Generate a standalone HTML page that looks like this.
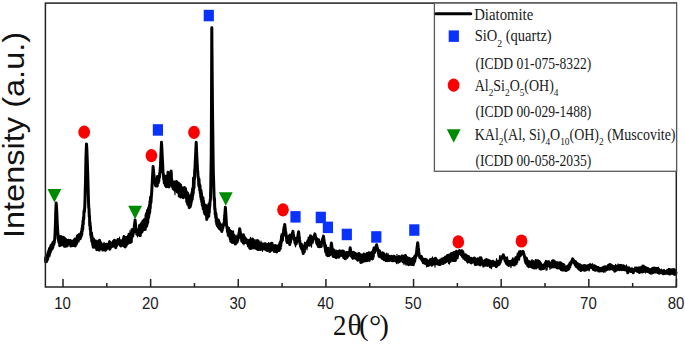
<!DOCTYPE html>
<html><head><meta charset="utf-8"><style>
html,body{margin:0;padding:0;background:#fff;width:685px;height:344px;overflow:hidden;}
svg{display:block;}
</style></head><body>
<svg width="685" height="344" viewBox="0 0 685 344">
<polyline points="45.50,257.4 45.75,261.8 46.00,257.2 46.25,260.8 46.50,257.0 46.75,261.4 47.00,255.5 47.25,259.8 47.50,254.9 47.75,259.0 48.00,253.0 48.25,257.0 48.50,252.0 48.75,255.1 49.00,250.4 49.25,253.9 49.50,248.7 49.75,253.5 50.00,249.5 50.25,252.2 50.50,247.0 50.75,250.7 51.00,245.5 51.25,250.0 51.50,245.0 51.75,248.5 52.00,244.7 52.25,248.6 52.50,243.7 52.75,247.7 53.00,242.4 53.25,245.7 53.50,242.1 53.75,244.6 54.00,243.5 54.25,242.5 54.50,240.4 54.75,239.3 55.00,234.6 55.25,228.7 55.50,221.7 55.75,212.0 56.00,206.6 56.20,202.9 56.25,203.6 56.50,207.3 56.75,211.4 57.00,217.1 57.25,223.6 57.50,226.9 57.75,231.8 58.00,234.2 58.25,238.4 58.50,239.5 58.75,241.8 59.00,236.9 59.25,243.3 59.50,237.5 59.75,245.7 60.00,238.9 60.25,244.2 60.50,239.4 60.75,243.9 61.00,236.4 61.25,244.1 61.50,238.4 61.75,245.0 62.00,238.7 62.25,244.1 62.50,239.0 62.75,244.2 63.00,238.5 63.25,243.9 63.50,237.2 63.75,245.1 64.00,238.3 64.25,244.0 64.50,238.3 64.75,246.2 65.00,238.8 65.25,246.0 65.50,240.5 65.75,246.2 66.00,240.0 66.25,245.4 66.50,239.9 66.75,245.9 67.00,240.2 67.25,245.8 67.50,241.6 67.75,244.6 68.00,240.7 68.25,243.7 68.50,240.2 68.75,243.6 69.00,240.9 69.25,243.4 69.50,240.8 69.75,243.2 70.00,241.1 70.25,243.6 70.50,240.4 70.75,246.0 71.00,242.0 71.25,245.8 71.50,242.7 71.75,245.8 72.00,242.3 72.25,245.3 72.50,242.0 72.75,245.6 73.00,241.3 73.25,244.3 73.50,240.7 73.75,245.1 74.00,241.3 74.25,244.2 74.50,239.7 74.75,245.2 75.00,239.1 75.25,245.9 75.50,239.4 75.75,244.2 76.00,239.2 76.25,244.4 76.50,239.6 76.75,243.1 77.00,238.3 77.25,241.5 77.50,237.4 77.75,240.8 78.00,235.6 78.25,238.7 78.50,235.4 78.75,239.0 79.00,235.5 79.25,238.6 79.50,234.3 79.75,238.3 80.00,234.7 80.25,238.7 80.50,234.7 80.75,237.0 81.00,233.8 81.25,236.0 81.50,231.5 81.75,234.7 82.00,228.5 82.25,231.5 82.50,225.6 82.75,229.1 83.00,220.7 83.25,224.3 83.50,217.2 83.75,219.0 84.00,211.0 84.25,212.1 84.50,211.2 84.75,206.7 85.00,200.0 85.25,189.4 85.50,181.5 85.75,167.8 86.00,155.7 86.25,149.6 86.50,143.9 86.50,143.9 86.75,147.7 87.00,153.4 87.25,160.1 87.50,167.6 87.75,174.2 88.00,183.5 88.25,192.5 88.50,201.7 88.75,207.8 89.00,208.6 89.25,216.7 89.50,215.7 89.75,225.8 90.00,222.3 90.25,229.8 90.50,226.6 90.75,235.2 91.00,232.5 91.25,237.7 91.50,232.7 91.75,241.1 92.00,235.9 92.25,242.4 92.50,238.5 92.75,245.3 93.00,240.1 93.25,247.3 93.50,238.7 93.75,244.6 94.00,239.9 94.25,244.5 94.50,240.9 94.75,246.6 95.00,241.8 95.25,247.4 95.50,243.5 95.75,247.5 96.00,240.9 96.25,247.5 96.50,242.2 96.75,249.7 97.00,242.3 97.25,247.7 97.50,241.8 97.75,249.2 98.00,243.0 98.25,249.1 98.50,241.6 98.75,249.8 99.00,241.8 99.25,250.2 99.50,240.2 99.75,248.1 100.00,241.4 100.25,248.1 100.50,243.4 100.75,248.1 101.00,243.2 101.25,248.5 101.50,243.9 101.75,248.0 102.00,244.5 102.25,248.3 102.50,245.2 102.75,250.1 103.00,246.4 103.25,249.3 103.50,245.7 103.75,248.9 104.00,245.0 104.25,248.0 104.50,243.9 104.75,249.4 105.00,246.1 105.25,250.3 105.50,245.6 105.75,249.2 106.00,245.9 106.25,249.4 106.50,244.2 106.75,247.8 107.00,244.5 107.25,247.6 107.50,245.1 107.75,248.1 108.00,245.7 108.25,247.8 108.50,244.1 108.75,248.2 109.00,243.5 109.25,247.0 109.50,241.7 109.75,249.3 110.00,243.1 110.25,248.5 110.50,244.6 110.75,247.3 111.00,242.9 111.25,247.0 111.50,244.0 111.75,246.1 112.00,243.1 112.25,245.0 112.50,242.7 112.75,246.3 113.00,243.3 113.25,246.3 113.50,241.3 113.75,246.0 114.00,241.0 114.25,245.6 114.50,240.3 114.75,245.5 115.00,240.5 115.25,245.4 115.50,241.4 115.75,247.8 116.00,241.7 116.25,244.2 116.50,241.6 116.75,244.1 117.00,240.9 117.25,243.4 117.50,240.7 117.75,242.1 118.00,239.5 118.25,242.1 118.50,240.1 118.75,243.3 119.00,240.0 119.25,244.3 119.50,240.4 119.75,243.3 120.00,240.7 120.25,245.4 120.50,241.6 120.75,245.3 121.00,242.0 121.25,245.1 121.50,242.5 121.75,244.0 122.00,240.4 122.25,244.6 122.50,241.0 122.75,245.4 123.00,240.3 123.25,244.8 123.50,238.4 123.75,246.0 124.00,236.6 124.25,245.7 124.50,238.0 124.75,246.3 125.00,239.6 125.25,246.9 125.50,238.2 125.75,245.8 126.00,237.4 126.25,245.5 126.50,238.8 126.75,244.5 127.00,238.0 127.25,242.2 127.50,237.7 127.75,242.0 128.00,236.7 128.25,243.2 128.50,236.3 128.75,241.9 129.00,234.3 129.25,241.8 129.50,234.6 129.75,241.8 130.00,234.6 130.25,242.5 130.50,234.7 130.75,241.4 131.00,235.1 131.25,241.9 131.50,232.7 131.75,237.7 132.00,229.7 132.25,235.6 132.50,229.4 132.75,236.1 133.00,234.2 133.25,233.1 133.50,232.7 133.75,231.6 134.00,228.5 134.25,227.2 134.50,225.3 134.75,223.0 135.00,221.0 135.10,220.1 135.25,221.6 135.50,224.1 135.75,227.2 136.00,228.3 136.25,232.1 136.50,230.9 136.75,234.1 137.00,232.9 137.25,234.5 137.50,230.8 137.75,235.0 138.00,230.2 138.25,233.9 138.50,229.8 138.75,233.2 139.00,230.0 139.25,234.4 139.50,225.5 139.75,234.3 140.00,228.0 140.25,235.7 140.50,224.8 140.75,233.5 141.00,225.2 141.25,229.2 141.50,223.8 141.75,232.2 142.00,222.7 142.25,231.5 142.50,223.1 142.75,230.3 143.00,221.1 143.25,226.2 143.50,222.0 143.75,227.3 144.00,221.2 144.25,229.4 144.50,219.4 144.75,228.9 145.00,220.9 145.25,229.5 145.50,219.1 145.75,227.0 146.00,215.3 146.25,225.2 146.50,213.4 146.75,226.2 147.00,215.2 147.25,223.9 147.50,210.6 147.75,222.6 148.00,212.9 148.25,218.8 148.50,208.8 148.75,216.9 149.00,207.0 149.25,213.7 149.50,205.2 149.75,212.0 150.00,201.2 150.25,208.2 150.50,197.2 150.75,202.7 151.00,202.3 151.25,197.3 151.50,194.8 151.75,191.5 152.00,186.3 152.25,182.5 152.50,177.3 152.75,173.1 153.00,168.5 153.10,166.6 153.25,168.1 153.50,170.6 153.75,173.5 154.00,174.9 154.25,177.9 154.50,178.5 154.75,182.8 155.00,182.7 155.25,184.1 155.50,182.3 155.75,185.9 156.00,178.9 156.25,186.0 156.50,180.3 156.75,185.1 157.00,178.4 157.25,185.9 157.50,176.5 157.75,182.1 158.00,177.9 158.25,182.9 158.50,177.8 158.75,181.3 159.00,176.5 159.25,177.7 159.50,177.2 159.75,172.7 160.00,172.4 160.25,168.6 160.50,165.2 160.75,158.3 161.00,153.2 161.25,147.7 161.50,142.2 161.50,142.2 161.75,146.9 162.00,151.6 162.25,156.7 162.50,161.3 162.75,166.2 163.00,172.1 163.25,174.2 163.50,174.9 163.75,179.6 164.00,176.0 164.25,183.0 164.50,175.7 164.75,183.2 165.00,176.0 165.25,185.2 165.50,176.9 165.75,186.0 166.00,177.5 166.25,186.8 166.50,178.8 166.75,185.3 167.00,177.4 167.25,184.6 167.50,175.5 167.75,186.4 168.00,172.3 168.25,184.0 168.50,174.6 168.75,182.3 169.00,187.0 169.25,183.6 169.50,185.6 169.75,184.4 170.00,184.5 170.25,180.6 170.50,178.6 170.75,175.0 171.00,172.2 171.10,170.9 171.25,173.2 171.50,177.9 171.75,180.9 172.00,185.8 172.25,184.9 172.50,187.2 172.75,186.7 173.00,186.7 173.25,188.8 173.50,187.6 173.75,188.9 174.00,182.0 174.25,189.7 174.50,182.0 174.75,190.2 175.00,181.9 175.25,189.0 175.50,181.8 175.75,188.0 176.00,183.7 176.25,189.7 176.50,181.4 176.75,190.4 177.00,183.9 177.25,192.0 177.50,183.5 177.75,190.7 178.00,184.4 178.25,192.6 178.50,183.1 178.75,192.4 179.00,185.1 179.25,196.1 179.50,183.9 179.75,195.7 180.00,185.3 180.25,195.5 180.50,184.9 180.75,197.1 181.00,186.4 181.25,192.7 181.50,187.6 181.75,193.7 182.00,187.7 182.25,195.7 182.50,188.8 182.75,196.2 183.00,188.4 183.25,197.7 183.50,188.3 183.75,193.2 184.00,188.3 184.25,193.4 184.50,187.5 184.75,192.2 185.00,189.3 185.25,194.6 185.50,188.6 185.75,197.2 186.00,191.0 186.25,198.0 186.50,191.9 186.75,201.6 187.00,195.2 187.25,200.0 187.50,193.1 187.75,204.5 188.00,194.2 188.25,202.9 188.50,197.1 188.75,205.7 189.00,197.4 189.25,207.8 189.50,199.8 189.75,206.6 190.00,197.6 190.25,206.8 190.50,196.0 190.75,204.8 191.00,195.5 191.25,202.0 191.50,194.5 191.75,199.8 192.00,192.5 192.25,199.4 192.50,189.3 192.75,195.7 193.00,187.5 193.25,193.2 193.50,177.9 193.75,188.9 194.00,186.8 194.25,180.3 194.50,178.0 194.75,170.0 195.00,168.2 195.25,161.3 195.50,157.3 195.75,151.6 196.00,146.4 196.20,142.2 196.25,143.3 196.50,149.0 196.75,154.7 197.00,160.5 197.25,165.7 197.50,169.2 197.75,171.7 198.00,176.3 198.25,178.1 198.50,178.3 198.75,185.5 199.00,179.1 199.25,187.3 199.50,184.0 199.75,190.4 200.00,185.6 200.25,193.2 200.50,189.9 200.75,196.9 201.00,190.2 201.25,199.6 201.50,193.3 201.75,201.9 202.00,196.6 202.25,204.9 202.50,197.8 202.75,206.4 203.00,197.7 203.25,209.0 203.50,201.0 203.75,208.4 204.00,205.1 204.25,212.0 204.50,205.8 204.75,213.8 205.00,205.8 205.25,213.3 205.50,204.9 205.75,215.0 206.00,207.4 206.25,215.8 206.50,212.4 206.75,219.4 207.00,212.0 207.25,218.1 207.50,210.2 207.75,217.0 208.00,207.9 208.25,216.6 208.50,205.5 208.75,216.2 209.00,203.9 209.25,212.6 209.50,204.7 209.75,206.9 210.00,202.3 210.25,200.2 210.50,197.9 210.75,187.0 211.00,170.3 211.25,153.9 211.50,101.7 211.75,40.0 211.80,27.7 212.00,52.2 212.25,82.5 212.50,108.9 212.75,129.6 213.00,149.8 213.25,168.4 213.50,177.1 213.75,185.1 214.00,193.7 214.25,200.3 214.50,198.7 214.75,209.1 215.00,208.3 215.25,214.7 215.50,212.2 215.75,217.6 216.00,213.8 216.25,221.8 216.50,219.6 216.75,224.1 217.00,219.7 217.25,225.7 217.50,219.8 217.75,226.0 218.00,221.9 218.25,227.1 218.50,220.0 218.75,226.8 219.00,221.6 219.25,228.5 219.50,223.0 219.75,228.1 220.00,224.5 220.25,227.6 220.50,226.1 220.75,229.9 221.00,227.5 221.25,230.2 221.50,227.3 221.75,231.5 222.00,228.6 222.25,230.1 222.50,226.1 222.75,228.2 223.00,226.5 223.25,226.1 223.50,224.2 223.75,224.9 224.00,222.8 224.25,222.4 224.50,218.7 224.75,216.0 225.00,212.3 225.25,209.3 225.40,207.3 225.50,208.9 225.75,213.1 226.00,217.2 226.25,221.2 226.50,225.3 226.75,226.2 227.00,227.4 227.25,229.0 227.50,231.4 227.75,232.4 228.00,227.9 228.25,235.1 228.50,227.9 228.75,236.0 229.00,230.0 229.25,235.6 229.50,229.9 229.75,236.8 230.00,231.8 230.25,239.3 230.50,232.4 230.75,241.2 231.00,231.5 231.25,241.6 231.50,231.5 231.75,241.6 232.00,231.9 232.25,242.5 232.50,234.7 232.75,240.9 233.00,234.3 233.25,242.2 233.50,235.7 233.75,241.2 234.00,235.3 234.25,242.4 234.50,236.1 234.75,243.3 235.00,236.5 235.25,244.1 235.50,238.4 235.75,243.1 236.00,237.6 236.25,243.2 236.50,237.6 236.75,242.0 237.00,237.8 237.25,241.9 237.50,237.0 237.75,240.4 238.00,237.0 238.25,238.4 238.50,236.1 238.75,236.1 239.00,233.0 239.25,232.1 239.50,230.1 239.70,228.8 239.75,229.1 240.00,230.6 240.25,232.6 240.50,233.3 240.75,235.9 241.00,236.8 241.25,238.3 241.50,238.2 241.75,241.0 242.00,238.9 242.25,240.1 242.50,235.0 242.75,242.0 243.00,235.9 243.25,242.9 243.50,234.7 243.75,242.6 244.00,236.2 244.25,242.6 244.50,237.3 244.75,241.9 245.00,238.1 245.25,242.5 245.50,238.4 245.75,241.2 246.00,239.3 246.25,241.6 246.50,239.9 246.75,242.0 247.00,240.0 247.25,242.9 247.50,241.1 247.75,243.8 248.00,240.6 248.25,244.7 248.50,241.6 248.75,245.1 249.00,242.0 249.25,246.7 249.50,242.7 249.75,248.2 250.00,240.0 250.25,247.9 250.50,241.4 250.75,248.6 251.00,240.2 251.25,246.3 251.50,240.0 251.75,248.0 252.00,240.5 252.25,246.7 252.50,239.1 252.75,246.9 253.00,242.3 253.25,247.9 253.50,240.1 253.75,247.3 254.00,240.7 254.25,247.8 254.50,243.1 254.75,247.9 255.00,241.7 255.25,247.7 255.50,242.2 255.75,248.2 256.00,241.8 256.25,247.6 256.50,243.2 256.75,247.8 257.00,241.3 257.25,249.1 257.50,240.7 257.75,248.4 258.00,240.7 258.25,249.6 258.50,241.6 258.75,249.2 259.00,243.4 259.25,248.2 259.50,243.1 259.75,249.0 260.00,244.0 260.25,249.4 260.50,245.7 260.75,248.9 261.00,245.5 261.25,249.3 261.50,243.6 261.75,249.0 262.00,243.8 262.25,247.5 262.50,244.6 262.75,248.1 263.00,244.6 263.25,248.7 263.50,244.6 263.75,248.8 264.00,245.5 264.25,248.9 264.50,243.8 264.75,248.1 265.00,244.7 265.25,247.9 265.50,243.7 265.75,248.3 266.00,245.0 266.25,249.9 266.50,244.6 266.75,249.5 267.00,245.5 267.25,250.6 267.50,245.9 267.75,249.4 268.00,244.5 268.25,249.8 268.50,246.2 268.75,249.3 269.00,245.2 269.25,249.6 269.50,244.9 269.75,251.5 270.00,243.9 270.25,250.9 270.50,245.3 270.75,250.5 271.00,243.4 271.25,249.9 271.50,243.4 271.75,249.6 272.00,243.2 272.25,249.1 272.50,245.1 272.75,249.9 273.00,245.9 273.25,249.4 273.50,245.5 273.75,250.2 274.00,246.4 274.25,251.4 274.50,246.0 274.75,250.7 275.00,246.8 275.25,249.6 275.50,245.5 275.75,250.0 276.00,246.5 276.25,251.3 276.50,246.7 276.75,251.9 277.00,246.7 277.25,250.4 277.50,246.1 277.75,249.7 278.00,246.9 278.25,250.4 278.50,247.8 278.75,250.3 279.00,246.8 279.25,250.4 279.50,244.5 279.75,248.1 280.00,242.8 280.25,248.8 280.50,242.3 280.75,245.9 281.00,240.2 281.25,242.9 281.50,236.3 281.75,241.1 282.00,234.5 282.25,237.4 282.50,240.1 282.75,234.8 283.00,235.8 283.25,233.2 283.50,231.5 283.75,229.3 284.00,228.5 284.25,226.6 284.50,225.5 284.70,224.4 284.75,224.8 285.00,226.8 285.25,228.7 285.50,230.7 285.75,232.2 286.00,233.8 286.25,237.0 286.50,236.3 286.75,241.4 287.00,239.8 287.25,242.5 287.50,238.9 287.75,241.1 288.00,238.1 288.25,240.5 288.50,236.4 288.75,240.4 289.00,237.7 289.25,243.3 289.50,236.4 289.75,244.6 290.00,235.1 290.25,242.6 290.50,242.0 290.75,239.8 291.00,239.5 291.25,238.9 291.50,237.0 291.75,236.8 292.00,235.1 292.25,233.9 292.50,232.8 292.75,231.9 292.90,231.3 293.00,231.8 293.25,233.5 293.50,234.7 293.75,236.3 294.00,238.2 294.25,238.0 294.50,240.3 294.75,240.7 295.00,242.9 295.25,242.6 295.50,239.8 295.75,244.2 296.00,238.7 296.25,243.7 296.50,241.3 296.75,242.3 297.00,240.6 297.25,238.8 297.50,238.4 297.75,236.4 298.00,235.5 298.25,233.7 298.50,232.4 298.60,231.8 298.75,233.0 299.00,235.4 299.25,237.2 299.50,239.5 299.75,241.1 300.00,244.2 300.25,244.1 300.50,246.4 300.75,246.0 301.00,247.2 301.25,247.8 301.50,244.3 301.75,249.1 302.00,245.7 302.25,249.4 302.50,247.5 302.75,252.0 303.00,247.7 303.25,253.6 303.50,246.9 303.75,251.5 304.00,246.9 304.25,251.9 304.50,246.4 304.75,249.0 305.00,245.1 305.25,248.2 305.50,243.5 305.75,247.4 306.00,243.6 306.25,247.1 306.50,244.6 306.75,246.6 307.00,243.2 307.25,245.6 307.50,241.8 307.75,245.1 308.00,240.8 308.25,244.9 308.50,240.5 308.75,243.2 309.00,237.9 309.25,244.4 309.50,238.2 309.75,245.2 310.00,237.5 310.25,244.6 310.50,235.8 310.75,243.8 311.00,237.6 311.25,243.3 311.50,237.0 311.75,242.7 312.00,237.8 312.25,242.6 312.50,241.5 312.75,241.1 313.00,238.7 313.25,238.8 313.50,237.6 313.75,238.0 314.00,236.4 314.25,235.7 314.50,235.0 314.75,234.1 314.80,233.9 315.00,234.8 315.25,235.6 315.50,237.0 315.75,237.4 316.00,239.3 316.25,239.5 316.50,241.6 316.75,243.4 317.00,242.8 317.25,244.1 317.50,239.1 317.75,244.9 318.00,240.1 318.25,246.5 318.50,240.0 318.75,245.4 319.00,242.1 319.25,244.8 319.50,242.9 319.75,246.8 320.00,243.8 320.25,245.7 320.50,243.4 320.75,246.5 321.00,242.6 321.25,246.4 321.50,242.5 321.75,243.2 322.00,241.1 322.25,241.4 322.50,239.1 322.75,239.6 323.00,238.0 323.25,237.3 323.50,236.1 323.50,236.1 323.75,238.2 324.00,239.5 324.25,242.8 324.50,242.7 324.75,246.6 325.00,246.7 325.25,248.6 325.50,249.8 325.75,252.0 326.00,248.8 326.25,252.2 326.50,248.4 326.75,255.0 327.00,248.2 327.25,253.6 327.50,249.9 327.75,255.7 328.00,250.4 328.25,255.0 328.50,251.2 328.75,255.4 329.00,255.2 329.25,253.7 329.50,254.6 329.75,252.4 330.00,254.7 330.25,252.0 330.50,250.7 330.75,247.7 331.00,246.7 331.25,244.2 331.40,243.1 331.50,243.9 331.75,245.7 332.00,247.6 332.25,249.6 332.50,251.2 332.75,252.3 333.00,255.8 333.25,255.5 333.50,256.6 333.75,255.9 334.00,250.1 334.25,256.3 334.50,252.3 334.75,256.2 335.00,251.5 335.25,257.1 335.50,253.3 335.75,256.8 336.00,252.4 336.25,257.7 336.50,251.3 336.75,255.8 337.00,252.5 337.25,256.7 337.50,253.2 337.75,256.1 338.00,252.6 338.25,256.4 338.50,251.6 338.75,257.2 339.00,251.3 339.25,255.2 339.50,252.9 339.75,255.6 340.00,252.1 340.25,254.4 340.50,251.8 340.75,255.4 341.00,252.1 341.25,254.6 341.50,251.2 341.75,254.9 342.00,252.0 342.25,255.3 342.50,251.8 342.75,255.1 343.00,250.9 343.25,256.5 343.50,252.5 343.75,257.7 344.00,253.3 344.25,257.9 344.50,254.0 344.75,258.0 345.00,254.8 345.25,258.8 345.50,254.0 345.75,257.9 346.00,253.9 346.25,256.8 346.50,252.4 346.75,257.1 347.00,253.6 347.25,257.2 347.50,252.4 347.75,255.7 348.00,255.6 348.25,253.5 348.50,255.5 348.75,253.6 349.00,254.0 349.25,253.7 349.50,252.1 349.75,250.8 350.00,249.1 350.20,247.8 350.25,248.2 350.50,250.1 350.75,251.6 351.00,254.6 351.25,254.4 351.50,256.3 351.75,254.4 352.00,256.8 352.25,254.7 352.50,258.0 352.75,254.4 353.00,252.4 353.25,254.8 353.50,252.2 353.75,256.4 354.00,252.5 354.25,257.2 354.50,254.5 354.75,257.9 355.00,253.9 355.25,257.7 355.50,253.5 355.75,257.9 356.00,254.7 356.25,257.9 356.50,254.0 356.75,259.3 357.00,254.2 357.25,258.9 357.50,255.1 357.75,260.2 358.00,255.7 358.25,259.2 358.50,253.8 358.75,258.9 359.00,253.6 359.25,259.5 359.50,253.9 359.75,260.1 360.00,256.0 360.25,260.3 360.50,256.8 360.75,262.4 361.00,257.0 361.25,261.7 361.50,257.4 361.75,262.3 362.00,255.0 362.25,262.0 362.50,256.7 362.75,260.0 363.00,255.3 363.25,260.9 363.50,254.7 363.75,261.1 364.00,254.0 364.25,261.0 364.50,255.3 364.75,260.5 365.00,255.1 365.25,260.2 365.50,255.1 365.75,258.5 366.00,254.8 366.25,260.7 366.50,254.8 366.75,260.1 367.00,253.6 367.25,258.8 367.50,255.7 367.75,259.2 368.00,254.7 368.25,258.8 368.50,253.9 368.75,259.3 369.00,252.7 369.25,260.5 369.50,253.7 369.75,258.5 370.00,253.6 370.25,257.8 370.50,253.4 370.75,257.2 371.00,253.1 371.25,258.6 371.50,252.9 371.75,257.1 372.00,252.2 372.25,258.9 372.50,253.2 372.75,258.5 373.00,252.8 373.25,256.6 373.50,250.0 373.75,253.0 374.00,248.1 374.25,251.9 374.50,252.7 374.75,250.2 375.00,250.9 375.25,248.7 375.50,249.6 375.75,247.1 376.00,247.4 376.25,245.9 376.50,245.3 376.60,244.8 376.75,245.4 377.00,246.8 377.25,247.3 377.50,249.0 377.75,249.3 378.00,251.5 378.25,250.8 378.50,253.8 378.75,252.5 379.00,256.2 379.25,253.1 379.50,250.7 379.75,256.8 380.00,252.9 380.25,255.9 380.50,253.2 380.75,257.1 381.00,253.2 381.25,257.0 381.50,253.3 381.75,257.5 382.00,253.7 382.25,258.5 382.50,252.8 382.75,258.3 383.00,253.1 383.25,257.8 383.50,253.3 383.75,259.0 384.00,255.7 384.25,259.8 384.50,256.3 384.75,259.2 385.00,256.0 385.25,258.9 385.50,255.4 385.75,259.3 386.00,255.0 386.25,260.0 386.50,255.5 386.75,260.6 387.00,255.6 387.25,260.7 387.50,256.0 387.75,260.4 388.00,256.3 388.25,260.1 388.50,255.9 388.75,259.1 389.00,256.5 389.25,260.4 389.50,256.9 389.75,260.5 390.00,256.8 390.25,259.8 390.50,257.3 390.75,259.4 391.00,257.7 391.25,259.9 391.50,256.3 391.75,260.1 392.00,257.7 392.25,260.8 392.50,258.2 392.75,260.8 393.00,258.2 393.25,260.5 393.50,257.8 393.75,259.9 394.00,256.3 394.25,260.4 394.50,257.6 394.75,260.1 395.00,258.2 395.25,260.8 395.50,257.9 395.75,260.9 396.00,257.7 396.25,259.6 396.50,257.8 396.75,260.5 397.00,257.5 397.25,260.5 397.50,258.6 397.75,261.6 398.00,257.3 398.25,261.7 398.50,257.7 398.75,261.6 399.00,256.4 399.25,261.7 399.50,257.0 399.75,261.2 400.00,258.4 400.25,260.4 400.50,257.4 400.75,259.7 401.00,257.2 401.25,259.5 401.50,257.1 401.75,260.2 402.00,255.9 402.25,259.9 402.50,257.1 402.75,261.4 403.00,256.3 403.25,262.0 403.50,257.5 403.75,261.7 404.00,258.3 404.25,262.3 404.50,257.3 404.75,260.4 405.00,255.8 405.25,260.2 405.50,255.4 405.75,260.7 406.00,257.7 406.25,263.1 406.50,258.0 406.75,262.2 407.00,257.6 407.25,262.7 407.50,258.5 407.75,264.1 408.00,258.5 408.25,263.9 408.50,259.5 408.75,264.7 409.00,258.3 409.25,264.1 409.50,258.5 409.75,263.5 410.00,258.9 410.25,263.3 410.50,259.1 410.75,263.5 411.00,259.3 411.25,264.5 411.50,259.7 411.75,263.2 412.00,259.8 412.25,263.8 412.50,258.9 412.75,262.9 413.00,258.6 413.25,264.8 413.50,259.9 413.75,263.4 414.00,258.9 414.25,262.2 414.50,257.7 414.75,261.1 415.00,256.1 415.25,258.7 415.50,257.6 415.75,256.1 416.00,256.3 416.25,253.8 416.50,252.5 416.75,250.3 417.00,248.1 417.25,246.6 417.50,244.3 417.70,242.8 417.75,243.2 418.00,245.1 418.25,247.7 418.50,249.1 418.75,252.0 419.00,253.3 419.25,256.1 419.50,255.8 419.75,257.5 420.00,256.6 420.25,257.7 420.50,256.1 420.75,257.9 421.00,256.6 421.25,259.0 421.50,256.6 421.75,259.7 422.00,258.7 422.25,260.5 422.50,259.9 422.75,261.0 423.00,260.1 423.25,262.7 423.50,258.9 423.75,262.3 424.00,259.9 424.25,263.0 424.50,260.3 424.75,262.4 425.00,259.4 425.25,263.5 425.50,259.3 425.75,262.6 426.00,259.5 426.25,263.1 426.50,259.8 426.75,263.9 427.00,261.1 427.25,263.9 427.50,263.0 427.75,265.5 428.00,263.0 428.25,264.6 428.50,262.1 428.75,265.2 429.00,261.9 429.25,264.2 429.50,260.9 429.75,263.8 430.00,260.0 430.25,263.4 430.50,259.4 430.75,263.2 431.00,260.1 431.25,264.0 431.50,259.2 431.75,265.2 432.00,259.5 432.25,263.5 432.50,259.4 432.75,264.4 433.00,259.4 433.25,263.6 433.50,259.7 433.75,263.2 434.00,259.5 434.25,263.4 434.50,259.6 434.75,263.8 435.00,258.7 435.25,263.1 435.50,258.3 435.75,262.6 436.00,258.9 436.25,263.1 436.50,260.5 436.75,263.6 437.00,260.6 437.25,263.3 437.50,261.3 437.75,264.1 438.00,261.8 438.25,263.8 438.50,261.9 438.75,264.3 439.00,261.5 439.25,264.6 439.50,261.2 439.75,263.9 440.00,260.4 440.25,264.5 440.50,260.0 440.75,263.6 441.00,260.6 441.25,262.8 441.50,259.5 441.75,263.0 442.00,260.1 442.25,262.9 442.50,258.7 442.75,263.4 443.00,258.9 443.25,263.4 443.50,259.5 443.75,262.7 444.00,259.2 444.25,262.2 444.50,257.9 444.75,262.3 445.00,258.2 445.25,260.7 445.50,256.9 445.75,261.8 446.00,257.2 446.25,260.0 446.50,256.8 446.75,260.6 447.00,256.6 447.25,259.8 447.50,255.6 447.75,260.2 448.00,256.2 448.25,260.9 448.50,256.0 448.75,260.1 449.00,254.9 449.25,260.7 449.50,255.9 449.75,261.1 450.00,254.7 450.25,261.5 450.50,255.9 450.75,260.8 451.00,254.3 451.25,260.2 451.50,253.6 451.75,259.7 452.00,254.1 452.25,259.9 452.50,253.5 452.75,260.5 453.00,254.2 453.25,260.3 453.50,252.9 453.75,259.6 454.00,252.6 454.25,260.6 454.50,253.4 454.75,260.5 455.00,254.5 455.25,260.6 455.50,253.3 455.75,259.5 456.00,251.9 456.25,257.7 456.50,251.2 456.75,258.1 457.00,253.0 457.25,258.0 457.50,254.3 457.75,255.5 458.00,252.6 458.25,254.0 458.50,252.0 458.75,252.9 459.00,251.5 459.25,251.4 459.50,250.6 459.50,250.6 459.75,251.3 460.00,251.5 460.25,252.5 460.50,252.2 460.75,253.8 461.00,252.7 461.25,254.8 461.50,253.4 461.75,255.2 462.00,250.8 462.25,256.5 462.50,251.3 462.75,256.5 463.00,252.0 463.25,256.9 463.50,254.2 463.75,256.9 464.00,255.7 464.25,258.1 464.50,255.4 464.75,258.7 465.00,255.1 465.25,259.5 465.50,254.8 465.75,259.0 466.00,255.8 466.25,259.8 466.50,255.5 466.75,260.4 467.00,256.2 467.25,261.3 467.50,257.1 467.75,261.6 468.00,257.7 468.25,260.7 468.50,256.5 468.75,261.8 469.00,258.6 469.25,262.0 469.50,258.7 469.75,261.3 470.00,259.6 470.25,261.7 470.50,258.3 470.75,261.9 471.00,258.9 471.25,263.0 471.50,259.6 471.75,261.9 472.00,259.9 472.25,261.9 472.50,259.9 472.75,261.9 473.00,259.0 473.25,262.0 473.50,258.6 473.75,262.1 474.00,258.4 474.25,261.5 474.50,258.0 474.75,262.0 475.00,259.1 475.25,264.6 475.50,259.0 475.75,264.6 476.00,260.4 476.25,263.3 476.50,260.3 476.75,264.3 477.00,259.6 477.25,263.2 477.50,259.5 477.75,263.4 478.00,258.8 478.25,263.4 478.50,259.6 478.75,263.2 479.00,260.7 479.25,264.4 479.50,260.1 479.75,263.3 480.00,260.5 480.25,264.9 480.50,259.1 480.75,264.0 481.00,257.8 481.25,264.0 481.50,259.5 481.75,263.3 482.00,260.5 482.25,263.9 482.50,261.1 482.75,263.2 483.00,261.7 483.25,264.4 483.50,261.3 483.75,263.5 484.00,261.6 484.25,263.1 484.50,261.4 484.75,263.9 485.00,261.5 485.25,265.2 485.50,260.0 485.75,264.0 486.00,260.1 486.25,264.2 486.50,259.6 486.75,263.4 487.00,261.5 487.25,265.4 487.50,260.5 487.75,264.5 488.00,260.7 488.25,264.5 488.50,260.7 488.75,264.0 489.00,261.8 489.25,264.0 489.50,260.9 489.75,265.6 490.00,261.0 490.25,264.4 490.50,261.9 490.75,265.0 491.00,262.7 491.25,266.1 491.50,263.3 491.75,265.5 492.00,262.1 492.25,265.5 492.50,261.6 492.75,265.0 493.00,261.2 493.25,265.2 493.50,263.1 493.75,264.5 494.00,263.0 494.25,265.0 494.50,262.5 494.75,265.4 495.00,264.0 495.25,265.4 495.50,262.8 495.75,265.7 496.00,262.2 496.25,266.7 496.50,262.3 496.75,265.9 497.00,262.3 497.25,265.2 497.50,262.8 497.75,264.2 498.00,261.2 498.25,263.8 498.50,261.4 498.75,264.7 499.00,261.5 499.25,264.0 499.50,261.4 499.75,263.2 500.00,260.2 500.25,262.0 500.50,259.2 500.75,260.6 501.00,258.0 501.25,259.4 501.50,257.6 501.75,258.4 502.00,256.9 502.25,257.3 502.50,256.7 502.75,256.0 503.00,255.5 503.25,255.0 503.30,254.9 503.50,255.4 503.75,256.3 504.00,257.2 504.25,257.3 504.50,258.7 504.75,258.4 505.00,260.7 505.25,260.1 505.50,261.3 505.75,261.9 506.00,258.0 506.25,263.2 506.50,259.1 506.75,263.8 507.00,260.3 507.25,264.3 507.50,260.4 507.75,264.7 508.00,261.5 508.25,265.1 508.50,262.4 508.75,265.4 509.00,262.3 509.25,264.8 509.50,261.6 509.75,264.5 510.00,261.4 510.25,264.4 510.50,262.1 510.75,264.1 511.00,262.0 511.25,264.7 511.50,262.5 511.75,263.8 512.00,260.8 512.25,264.2 512.50,260.8 512.75,263.4 513.00,260.1 513.25,264.8 513.50,259.8 513.75,264.6 514.00,260.1 514.25,265.1 514.50,260.8 514.75,264.5 515.00,260.5 515.25,262.9 515.50,258.4 515.75,263.0 516.00,257.6 516.25,263.8 516.50,257.4 516.75,262.1 517.00,257.1 517.25,260.6 517.50,256.5 517.75,259.1 518.00,254.2 518.25,258.2 518.50,254.0 518.75,256.7 519.00,252.9 519.25,255.5 519.50,251.7 519.75,255.7 520.00,252.5 520.25,255.8 520.50,251.6 520.75,254.2 521.00,254.7 521.25,253.7 521.50,253.7 521.75,253.3 522.00,252.8 522.25,252.4 522.50,251.9 522.75,251.8 523.00,251.4 523.00,251.4 523.25,252.3 523.50,253.0 523.75,253.8 524.00,254.8 524.25,255.6 524.50,256.4 524.75,257.8 525.00,258.4 525.25,260.9 525.50,257.6 525.75,262.8 526.00,258.5 526.25,263.4 526.50,258.3 526.75,263.6 527.00,259.9 527.25,264.7 527.50,260.7 527.75,265.8 528.00,261.8 528.25,265.3 528.50,261.5 528.75,266.7 529.00,261.5 529.25,265.2 529.50,262.1 529.75,266.2 530.00,263.3 530.25,266.0 530.50,262.8 530.75,266.5 531.00,263.3 531.25,265.7 531.50,263.0 531.75,266.2 532.00,261.1 532.25,267.2 532.50,261.0 532.75,267.6 533.00,262.6 533.25,267.4 533.50,262.0 533.75,266.9 534.00,263.0 534.25,268.1 534.50,262.6 534.75,267.5 535.00,262.0 535.25,267.2 535.50,262.3 535.75,267.0 536.00,260.4 536.25,267.9 536.50,263.4 536.75,267.1 537.00,262.5 537.25,265.5 537.50,262.4 537.75,265.7 538.00,260.8 538.25,266.1 538.50,262.0 538.75,267.0 539.00,261.3 539.25,266.3 539.50,261.7 539.75,268.4 540.00,263.0 540.25,268.9 540.50,264.6 540.75,268.0 541.00,264.9 541.25,269.1 541.50,265.1 541.75,268.1 542.00,265.8 542.25,268.0 542.50,265.7 542.75,267.9 543.00,266.0 543.25,268.6 543.50,265.1 543.75,268.2 544.00,265.3 544.25,268.2 544.50,264.8 544.75,266.8 545.00,263.7 545.25,266.4 545.50,262.9 545.75,265.3 546.00,262.4 546.25,264.5 546.50,261.8 546.75,265.4 547.00,261.7 547.25,264.6 547.50,262.5 547.75,264.1 548.00,262.2 548.25,264.5 548.50,262.7 548.75,265.3 549.00,261.7 549.25,266.2 549.50,263.9 549.75,266.3 550.00,263.5 550.25,266.8 550.50,263.4 550.75,266.6 551.00,263.4 551.25,267.3 551.50,263.3 551.75,267.1 552.00,263.4 552.25,265.8 552.50,261.3 552.75,265.5 553.00,260.8 553.25,266.2 553.50,261.5 553.75,265.8 554.00,261.1 554.25,265.9 554.50,262.1 554.75,265.9 555.00,262.5 555.25,266.2 555.50,263.8 555.75,267.0 556.00,263.1 556.25,266.4 556.50,263.9 556.75,267.4 557.00,264.0 557.25,268.0 557.50,264.7 557.75,267.9 558.00,263.9 558.25,267.1 558.50,264.3 558.75,267.4 559.00,263.9 559.25,267.3 559.50,262.8 559.75,267.9 560.00,263.2 560.25,268.0 560.50,263.0 560.75,269.0 561.00,262.9 561.25,269.7 561.50,264.7 561.75,268.6 562.00,264.1 562.25,269.9 562.50,264.8 562.75,270.0 563.00,264.8 563.25,269.2 563.50,264.5 563.75,270.0 564.00,264.9 564.25,269.2 564.50,266.3 564.75,268.9 565.00,266.9 565.25,270.0 565.50,267.9 565.75,270.5 566.00,267.8 566.25,270.4 566.50,268.2 566.75,270.2 567.00,267.6 567.25,269.5 567.50,266.2 567.75,269.2 568.00,266.1 568.25,269.5 568.50,266.5 568.75,268.5 569.00,265.0 569.25,267.2 569.50,264.6 569.75,267.2 570.00,263.0 570.25,265.4 570.50,263.6 570.75,264.2 571.00,262.8 571.25,262.9 571.50,261.6 571.75,261.6 572.00,260.7 572.25,259.9 572.50,259.4 572.70,258.8 572.75,258.9 573.00,259.4 573.25,259.9 573.50,260.3 573.75,261.2 574.00,261.2 574.25,263.1 574.50,261.7 574.75,263.7 575.00,262.2 575.25,265.2 575.50,261.6 575.75,265.3 576.00,263.1 576.25,266.4 576.50,263.6 576.75,266.9 577.00,263.3 577.25,266.9 577.50,263.4 577.75,266.9 578.00,264.1 578.25,267.9 578.50,265.5 578.75,268.9 579.00,265.7 579.25,269.2 579.50,265.4 579.75,269.2 580.00,264.8 580.25,269.8 580.50,266.5 580.75,270.4 581.00,266.3 581.25,269.5 581.50,265.8 581.75,269.6 582.00,266.8 582.25,269.6 582.50,266.6 582.75,268.9 583.00,266.1 583.25,269.6 583.50,266.7 583.75,268.4 584.00,265.8 584.25,268.2 584.50,265.8 584.75,270.3 585.00,265.4 585.25,269.0 585.50,266.9 585.75,269.5 586.00,266.1 586.25,269.8 586.50,266.7 586.75,268.5 587.00,266.2 587.25,269.0 587.50,266.3 587.75,267.5 588.00,266.4 588.25,267.9 588.50,265.5 588.75,267.7 589.00,266.0 589.25,267.7 589.50,265.7 589.75,267.0 590.00,264.8 590.25,267.4 590.50,264.7 590.75,266.7 591.00,265.3 591.25,267.2 591.50,266.0 591.75,267.5 592.00,266.4 592.25,267.5 592.50,266.1 592.75,268.4 593.00,266.2 593.25,269.4 593.50,266.1 593.75,269.0 594.00,266.1 594.25,269.6 594.50,266.1 594.75,270.1 595.00,265.9 595.25,270.3 595.50,266.6 595.75,270.0 596.00,267.1 596.25,269.6 596.50,268.0 596.75,269.6 597.00,267.2 597.25,270.0 597.50,267.5 597.75,269.8 598.00,267.5 598.25,270.2 598.50,268.6 598.75,271.1 599.00,268.8 599.25,271.0 599.50,268.3 599.75,271.1 600.00,269.4 600.25,270.9 600.50,269.1 600.75,270.7 601.00,268.7 601.25,270.7 601.50,268.2 601.75,270.2 602.00,268.5 602.25,270.7 602.50,268.4 602.75,270.6 603.00,268.1 603.25,270.3 603.50,267.3 603.75,270.9 604.00,267.6 604.25,270.5 604.50,267.8 604.75,270.2 605.00,266.8 605.25,269.2 605.50,267.1 605.75,269.5 606.00,267.4 606.25,270.0 606.50,267.0 606.75,269.6 607.00,267.2 607.25,268.6 607.50,266.6 607.75,269.2 608.00,266.3 608.25,268.3 608.50,265.3 608.75,268.4 609.00,265.7 609.25,269.1 609.50,265.4 609.75,269.2 610.00,264.6 610.25,268.2 610.50,265.8 610.75,268.5 611.00,265.4 611.25,268.6 611.50,265.3 611.75,268.2 612.00,266.0 612.25,268.9 612.50,265.9 612.75,269.1 613.00,266.3 613.25,269.6 613.50,266.9 613.75,269.8 614.00,266.9 614.25,269.8 614.50,267.6 614.75,271.2 615.00,266.6 615.25,270.4 615.50,266.8 615.75,270.2 616.00,266.3 616.25,270.3 616.50,266.2 616.75,269.4 617.00,266.4 617.25,269.4 617.50,267.4 617.75,268.6 618.00,266.5 618.25,268.0 618.50,266.1 618.75,268.6 619.00,266.2 619.25,269.7 619.50,266.3 619.75,269.0 620.00,265.4 620.25,268.9 620.50,265.5 620.75,268.8 621.00,265.7 621.25,269.4 621.50,265.4 621.75,269.7 622.00,266.1 622.25,269.3 622.50,266.1 622.75,269.5 623.00,266.3 623.25,268.2 623.50,265.7 623.75,269.1 624.00,266.8 624.25,269.8 624.50,267.3 624.75,268.9 625.00,267.3 625.25,269.6 625.50,267.0 625.75,270.0 626.00,267.7 626.25,269.8 626.50,267.3 626.75,270.5 627.00,268.4 627.25,271.3 627.50,268.7 627.75,272.8 628.00,268.4 628.25,271.9 628.50,268.8 628.75,270.8 629.00,269.1 629.25,270.6 629.50,268.8 629.75,270.7 630.00,269.5 630.25,271.0 630.50,269.5 630.75,271.4 631.00,269.1 631.25,271.4 631.50,269.0 631.75,271.0 632.00,268.8 632.25,271.8 632.50,269.3 632.75,272.2 633.00,270.0 633.25,272.8 633.50,269.7 633.75,271.5 634.00,269.6 634.25,271.3 634.50,269.7 634.75,270.7 635.00,269.5 635.25,269.6 635.50,268.5 635.75,269.6 636.00,268.3 636.25,269.8 636.50,268.5 636.75,270.2 637.00,268.0 637.25,271.3 637.50,268.2 637.75,271.4 638.00,268.4 638.25,270.8 638.50,268.1 638.75,271.9 639.00,268.6 639.25,272.4 639.50,268.1 639.75,271.9 640.00,267.8 640.25,270.7 640.50,268.2 640.75,272.0 641.00,267.9 641.25,271.5 641.50,267.5 641.75,271.8 642.00,266.9 642.25,271.0 642.50,267.0 642.75,271.8 643.00,265.9 643.25,270.7 643.50,266.5 643.75,271.0 644.00,267.0 644.25,271.0 644.50,267.8 644.75,271.3 645.00,267.5 645.25,270.2 645.50,268.3 645.75,270.4 646.00,267.8 646.25,270.8 646.50,268.7 646.75,271.1 647.00,268.2 647.25,271.5 647.50,268.8 647.75,270.9 648.00,268.5 648.25,270.6 648.50,269.3 648.75,271.3 649.00,269.5 649.25,271.9 649.50,269.6 649.75,272.6 650.00,269.6 650.25,272.5 650.50,269.7 650.75,273.2 651.00,269.7 651.25,272.8 651.50,270.0 651.75,272.5 652.00,269.2 652.25,272.9 652.50,268.5 652.75,272.2 653.00,268.3 653.25,271.9 653.50,268.3 653.75,272.3 654.00,268.2 654.25,271.6 654.50,268.0 654.75,271.6 655.00,268.9 655.25,272.0 655.50,268.9 655.75,271.9 656.00,268.6 656.25,272.1 656.50,268.4 656.75,271.0 657.00,268.4 657.25,271.0 657.50,269.3 657.75,271.7 658.00,268.8 658.25,272.8 658.50,269.5 658.75,273.1 659.00,269.6 659.25,273.2 659.50,270.1 659.75,272.9 660.00,270.6 660.25,272.8 660.50,271.2 660.75,272.6 661.00,271.0 661.25,272.8 661.50,271.1 661.75,272.5 662.00,271.3 662.25,272.0 662.50,271.5 662.75,273.1 663.00,271.9 663.25,273.7 663.50,271.6 663.75,273.0 664.00,270.6 664.25,272.8 664.50,271.3 664.75,273.4 665.00,271.3 665.25,272.4 665.50,271.8 665.75,273.1 666.00,271.7 666.25,272.9 666.50,271.2 666.75,273.2 667.00,271.2 667.25,272.9 667.50,270.3 667.75,273.0 668.00,270.3 668.25,273.2 668.50,270.0 668.75,273.2 669.00,269.9 669.25,273.9 669.50,269.6 669.75,273.5 670.00,269.7 670.25,273.9 670.50,271.4 670.75,273.5 671.00,270.9 671.25,273.3 671.50,270.1 671.75,272.9 672.00,269.7 672.25,272.3 672.50,270.3 672.75,272.8 673.00,270.6 673.25,273.7 673.50,269.9 673.75,273.9 674.00,270.1 674.25,273.5 674.50,270.1 674.75,274.4 675.00,270.7 675.25,273.6 675.50,270.6 675.75,273.3 676.00,271.7" fill="none" stroke="#000" stroke-width="3.0" stroke-linejoin="round"/>
<polyline points="45.50,256.5 46.00,257.4 46.50,256.9 47.00,256.3 47.50,256.1 48.00,254.4 48.50,248.8 49.00,247.7 49.50,251.8 50.00,256.5 50.50,250.1 51.00,251.4 51.50,249.3 52.00,246.2 52.50,246.8 53.00,244.7 53.50,244.9 54.00,243.1 54.50,240.8 55.00,233.7 55.50,221.4 56.00,206.5 56.50,207.3 57.00,216.7 57.50,226.4 58.00,234.3 58.50,241.8 59.00,238.7 59.50,235.9 60.00,243.3 60.50,238.2 61.00,243.4 61.50,242.0 62.00,243.2 62.50,242.6 63.00,242.6 63.50,242.8 64.00,247.1 64.50,244.2 65.00,243.0 65.50,243.2 66.00,243.2 66.50,243.6 67.00,246.2 67.50,244.4 68.00,244.1 68.50,242.8 69.00,243.1 69.50,242.1 70.00,244.2 70.50,245.5 71.00,246.1 71.50,244.1 72.00,245.2 72.50,245.6 73.00,241.6 73.50,242.6 74.00,242.2 74.50,241.3 75.00,240.1 75.50,240.5 76.00,241.2 76.50,235.3 77.00,238.6 77.50,238.3 78.00,239.7 78.50,238.2 79.00,242.2 79.50,238.1 80.00,237.7 80.50,233.9 81.00,231.8 81.50,232.1 82.00,230.0 82.50,228.3 83.00,223.9 83.50,219.8 84.00,213.0 84.50,212.5 85.00,198.0 85.50,180.9 86.00,155.3 86.50,143.9 87.00,153.2 87.50,167.2 88.00,182.7 88.50,200.8 89.00,211.8 89.50,219.3 90.00,224.2 90.50,228.6 91.00,230.9 91.50,242.3 92.00,239.9 92.50,240.9 93.00,244.7 93.50,244.2 94.00,239.1 94.50,244.1 95.00,247.1 95.50,244.2 96.00,244.4 96.50,247.4 97.00,246.7 97.50,242.5 98.00,244.5 98.50,245.1 99.00,247.3 99.50,243.4 100.00,245.7 100.50,247.0 101.00,246.7 101.50,248.1 102.00,245.8 102.50,249.8 103.00,247.7 103.50,247.8 104.00,242.6 104.50,247.8 105.00,247.2 105.50,250.1 106.00,247.6 106.50,249.0 107.00,247.4 107.50,245.1 108.00,244.1 108.50,246.8 109.00,247.8 109.50,240.9 110.00,245.7 110.50,247.1 111.00,243.7 111.50,243.8 112.00,245.8 112.50,244.7 113.00,246.0 113.50,245.9 114.00,243.1 114.50,245.7 115.00,245.7 115.50,243.3 116.00,243.2 116.50,240.7 117.00,244.0 117.50,246.3 118.00,240.2 118.50,242.0 119.00,243.3 119.50,237.1 120.00,240.9 120.50,244.6 121.00,247.3 121.50,242.1 122.00,242.0 122.50,241.9 123.00,242.4 123.50,238.8 124.00,241.5 124.50,240.4 125.00,239.8 125.50,242.9 126.00,241.1 126.50,237.6 127.00,241.4 127.50,235.5 128.00,240.8 128.50,237.7 129.00,235.6 129.50,237.1 130.00,230.6 130.50,237.8 131.00,234.2 131.50,237.9 132.00,235.4 132.50,234.7 133.00,232.7 133.50,232.1 134.00,228.1 134.50,224.7 135.00,220.9 135.50,224.1 136.00,230.3 136.50,230.7 137.00,231.7 137.50,237.0 138.00,232.8 138.50,231.0 139.00,232.9 139.50,227.4 140.00,231.6 140.50,227.1 141.00,226.3 141.50,224.7 142.00,224.7 142.50,229.6 143.00,221.8 143.50,228.2 144.00,225.4 144.50,227.2 145.00,227.0 145.50,228.6 146.00,226.4 146.50,224.4 147.00,223.4 147.50,212.8 148.00,219.3 148.50,215.7 149.00,209.9 149.50,210.7 150.00,213.9 150.50,199.5 151.00,197.5 151.50,192.1 152.00,187.1 152.50,176.8 153.00,168.3 153.50,169.9 154.00,174.8 154.50,178.7 155.00,185.6 155.50,181.7 156.00,180.3 156.50,178.2 157.00,180.6 157.50,180.5 158.00,178.6 158.50,174.7 159.00,176.6 159.50,176.2 160.00,170.7 160.50,165.9 161.00,153.1 161.50,142.2 162.00,151.6 162.50,162.2 163.00,170.1 163.50,174.8 164.00,180.3 164.50,178.4 165.00,179.2 165.50,184.7 166.00,177.3 166.50,176.6 167.00,183.3 167.50,180.1 168.00,181.0 168.50,180.9 169.00,181.6 169.50,186.3 170.00,185.5 170.50,177.8 171.00,172.1 171.50,176.8 172.00,184.1 172.50,185.0 173.00,189.2 173.50,187.1 174.00,187.5 174.50,189.2 175.00,194.8 175.50,185.6 176.00,186.5 176.50,186.4 177.00,187.8 177.50,190.8 178.00,182.7 178.50,189.8 179.00,190.0 179.50,189.6 180.00,195.5 180.50,193.4 181.00,193.1 181.50,191.2 182.00,191.3 182.50,189.4 183.00,191.4 183.50,191.9 184.00,193.2 184.50,194.0 185.00,190.1 185.50,196.0 186.00,193.8 186.50,195.4 187.00,203.3 187.50,197.8 188.00,202.4 188.50,203.6 189.00,200.6 189.50,205.0 190.00,199.4 190.50,199.1 191.00,199.8 191.50,205.3 192.00,198.1 192.50,196.2 193.00,192.9 193.50,186.7 194.00,186.1 194.50,173.8 195.00,165.8 195.50,156.1 196.00,146.3 196.50,149.2 197.00,158.8 197.50,167.8 198.00,172.6 198.50,178.8 199.00,180.8 199.50,186.9 200.00,185.4 200.50,196.4 201.00,198.7 201.50,195.9 202.00,197.1 202.50,198.2 203.00,202.5 203.50,203.9 204.00,204.8 204.50,207.7 205.00,207.5 205.50,210.5 206.00,215.5 206.50,210.6 207.00,215.1 207.50,210.8 208.00,214.3 208.50,206.6 209.00,205.0 209.50,204.8 210.00,200.2 210.50,197.0 211.00,169.7 211.50,101.3 212.00,51.9 212.50,109.8 213.00,149.3 213.50,176.4 214.00,197.1 214.50,196.1 215.00,207.1 215.50,219.2 216.00,215.1 216.50,217.8 217.00,216.9 217.50,220.9 218.00,225.5 218.50,223.2 219.00,224.4 219.50,222.5 220.00,227.3 220.50,223.9 221.00,229.1 221.50,223.9 222.00,225.0 222.50,226.2 223.00,226.2 223.50,224.3 224.00,223.0 224.50,218.6 225.00,212.4 225.50,209.0 226.00,217.6 226.50,224.1 227.00,226.4 227.50,228.4 228.00,235.6 228.50,230.9 229.00,231.2 229.50,232.7 230.00,236.1 230.50,237.8 231.00,236.3 231.50,233.8 232.00,237.6 232.50,235.6 233.00,235.6 233.50,230.8 234.00,237.5 234.50,236.1 235.00,237.6 235.50,238.0 236.00,238.5 236.50,238.6 237.00,234.7 237.50,237.6 238.00,237.3 238.50,237.1 239.00,233.1 239.50,230.1 240.00,230.5 240.50,235.1 241.00,236.6 241.50,237.1 242.00,242.1 242.50,235.3 243.00,237.0 243.50,236.0 244.00,244.9 244.50,241.4 245.00,241.6 245.50,242.8 246.00,241.9 246.50,241.7 247.00,239.9 247.50,246.8 248.00,243.9 248.50,242.1 249.00,242.3 249.50,242.8 250.00,244.8 250.50,237.2 251.00,242.2 251.50,242.5 252.00,243.1 252.50,245.1 253.00,243.9 253.50,245.1 254.00,246.1 254.50,243.7 255.00,244.8 255.50,244.0 256.00,239.4 256.50,242.5 257.00,246.8 257.50,250.1 258.00,244.9 258.50,245.8 259.00,243.4 259.50,245.6 260.00,244.8 260.50,246.9 261.00,241.0 261.50,246.7 262.00,244.1 262.50,251.4 263.00,247.7 263.50,247.5 264.00,247.7 264.50,244.9 265.00,248.5 265.50,245.9 266.00,248.7 266.50,249.2 267.00,246.7 267.50,244.6 268.00,246.9 268.50,242.6 269.00,246.7 269.50,248.6 270.00,246.6 270.50,247.9 271.00,246.9 271.50,245.1 272.00,246.1 272.50,249.9 273.00,247.1 273.50,248.0 274.00,246.5 274.50,245.2 275.00,246.7 275.50,248.6 276.00,248.6 276.50,250.4 277.00,247.4 277.50,248.1 278.00,246.6 278.50,249.1 279.00,248.1 279.50,245.3 280.00,247.1 280.50,244.4 281.00,245.5 281.50,243.3 282.00,239.1 282.50,237.3 283.00,233.6 283.50,230.3 284.00,227.9 284.50,225.4 285.00,226.4 285.50,230.3 286.00,233.4 286.50,237.2 287.00,239.3 287.50,241.6 288.00,240.2 288.50,237.1 289.00,237.9 289.50,240.4 290.00,240.2 290.50,238.8 291.00,237.1 291.50,235.5 292.00,234.5 292.50,233.0 293.00,231.9 293.50,234.5 294.00,237.3 294.50,239.2 295.00,243.4 295.50,247.0 296.00,240.9 296.50,240.4 297.00,240.2 297.50,237.7 298.00,235.2 298.50,232.4 299.00,235.8 299.50,240.4 300.00,243.0 300.50,244.6 301.00,246.9 301.50,247.3 302.00,249.9 302.50,249.2 303.00,251.2 303.50,247.1 304.00,246.7 304.50,242.1 305.00,249.5 305.50,244.4 306.00,244.7 306.50,241.7 307.00,250.0 307.50,244.6 308.00,244.7 308.50,243.5 309.00,240.9 309.50,241.2 310.00,241.4 310.50,241.1 311.00,240.3 311.50,247.3 312.00,240.5 312.50,239.8 313.00,238.5 313.50,239.9 314.00,236.9 314.50,234.8 315.00,234.6 315.50,236.7 316.00,238.0 316.50,240.6 317.00,241.7 317.50,240.9 318.00,241.5 318.50,240.9 319.00,242.8 319.50,239.0 320.00,242.7 320.50,244.5 321.00,245.5 321.50,242.4 322.00,242.3 322.50,239.5 323.00,237.6 323.50,236.1 324.00,239.5 324.50,243.0 325.00,246.5 325.50,252.3 326.00,249.8 326.50,244.8 327.00,254.1 327.50,251.9 328.00,253.4 328.50,247.4 329.00,252.4 329.50,256.3 330.00,253.1 330.50,249.2 331.00,246.1 331.50,243.9 332.00,246.9 332.50,249.9 333.00,253.5 333.50,253.4 334.00,254.7 334.50,254.3 335.00,253.5 335.50,255.1 336.00,250.3 336.50,254.3 337.00,253.5 337.50,254.5 338.00,255.8 338.50,252.5 339.00,257.5 339.50,249.8 340.00,249.9 340.50,252.2 341.00,253.0 341.50,255.2 342.00,253.5 342.50,254.1 343.00,255.3 343.50,254.9 344.00,255.6 344.50,250.9 345.00,256.1 345.50,255.0 346.00,259.3 346.50,255.4 347.00,258.3 347.50,255.6 348.00,254.4 348.50,254.5 349.00,254.3 349.50,252.0 350.00,249.3 350.50,250.5 351.00,254.2 351.50,254.8 352.00,254.8 352.50,258.7 353.00,259.4 353.50,256.6 354.00,257.0 354.50,255.4 355.00,255.4 355.50,255.9 356.00,255.1 356.50,256.7 357.00,257.8 357.50,257.2 358.00,257.2 358.50,258.6 359.00,254.2 359.50,258.5 360.00,257.5 360.50,260.4 361.00,257.1 361.50,258.9 362.00,258.5 362.50,262.3 363.00,257.5 363.50,258.4 364.00,258.5 364.50,259.2 365.00,262.0 365.50,255.6 366.00,256.3 366.50,258.5 367.00,257.2 367.50,261.5 368.00,255.6 368.50,256.0 369.00,257.8 369.50,256.7 370.00,256.3 370.50,258.0 371.00,253.4 371.50,253.4 372.00,257.3 372.50,254.1 373.00,253.5 373.50,253.9 374.00,252.7 374.50,251.1 375.00,251.7 375.50,248.7 376.00,247.0 376.50,245.1 377.00,246.6 377.50,249.9 378.00,251.1 378.50,251.4 379.00,254.8 379.50,253.1 380.00,253.8 380.50,257.7 381.00,255.1 381.50,254.1 382.00,257.2 382.50,257.9 383.00,255.9 383.50,257.6 384.00,257.1 384.50,258.3 385.00,256.8 385.50,261.7 386.00,257.5 386.50,253.0 387.00,259.1 387.50,260.0 388.00,253.4 388.50,256.2 389.00,259.2 389.50,257.4 390.00,259.0 390.50,258.8 391.00,256.6 391.50,256.4 392.00,256.4 392.50,256.8 393.00,259.6 393.50,260.0 394.00,258.5 394.50,259.7 395.00,259.9 395.50,256.1 396.00,260.4 396.50,263.7 397.00,254.4 397.50,259.8 398.00,263.8 398.50,260.0 399.00,260.1 399.50,257.0 400.00,257.9 400.50,258.1 401.00,259.0 401.50,258.1 402.00,260.0 402.50,260.3 403.00,259.1 403.50,259.9 404.00,264.7 404.50,259.8 405.00,260.9 405.50,260.0 406.00,265.3 406.50,264.5 407.00,260.7 407.50,261.3 408.00,259.3 408.50,260.1 409.00,260.8 409.50,259.8 410.00,259.9 410.50,262.1 411.00,260.6 411.50,260.9 412.00,261.1 412.50,265.0 413.00,260.3 413.50,256.6 414.00,256.3 414.50,261.0 415.00,256.1 415.50,257.7 416.00,255.4 416.50,251.4 417.00,247.9 417.50,244.3 418.00,245.7 418.50,249.3 419.00,253.4 419.50,255.8 420.00,256.8 420.50,256.3 421.00,257.8 421.50,258.5 422.00,260.7 422.50,259.2 423.00,259.8 423.50,259.4 424.00,260.0 424.50,259.6 425.00,262.1 425.50,261.8 426.00,260.5 426.50,266.9 427.00,262.1 427.50,263.4 428.00,262.0 428.50,264.5 429.00,263.3 429.50,263.4 430.00,260.8 430.50,260.8 431.00,259.7 431.50,260.0 432.00,260.2 432.50,256.8 433.00,262.0 433.50,261.0 434.00,262.8 434.50,260.8 435.00,267.2 435.50,261.6 436.00,263.0 436.50,261.9 437.00,262.1 437.50,261.0 438.00,260.0 438.50,263.7 439.00,261.2 439.50,262.2 440.00,264.5 440.50,261.0 441.00,262.3 441.50,261.7 442.00,261.6 442.50,263.9 443.00,261.9 443.50,260.5 444.00,262.6 444.50,261.7 445.00,260.9 445.50,263.0 446.00,257.5 446.50,259.3 447.00,259.5 447.50,255.1 448.00,260.0 448.50,263.8 449.00,256.9 449.50,264.3 450.00,256.7 450.50,258.3 451.00,257.3 451.50,259.2 452.00,257.8 452.50,257.1 453.00,259.0 453.50,258.3 454.00,258.1 454.50,258.8 455.00,258.2 455.50,256.9 456.00,259.0 456.50,253.5 457.00,254.5 457.50,253.8 458.00,253.1 458.50,252.4 459.00,251.3 459.50,250.6 460.00,251.3 460.50,252.0 461.00,252.7 461.50,255.2 462.00,254.2 462.50,252.8 463.00,259.1 463.50,254.2 464.00,255.0 464.50,258.1 465.00,256.1 465.50,257.3 466.00,256.2 466.50,258.1 467.00,256.4 467.50,263.3 468.00,257.5 468.50,258.3 469.00,257.0 469.50,259.5 470.00,259.4 470.50,258.7 471.00,260.9 471.50,257.2 472.00,257.9 472.50,258.2 473.00,261.8 473.50,260.9 474.00,260.5 474.50,260.2 475.00,260.1 475.50,260.4 476.00,261.5 476.50,261.8 477.00,261.6 477.50,261.3 478.00,260.5 478.50,261.7 479.00,261.1 479.50,256.8 480.00,263.0 480.50,262.2 481.00,263.8 481.50,263.6 482.00,263.5 482.50,263.6 483.00,267.2 483.50,262.7 484.00,267.0 484.50,264.2 485.00,263.3 485.50,262.6 486.00,264.6 486.50,262.9 487.00,265.3 487.50,260.8 488.00,259.1 488.50,263.2 489.00,262.7 489.50,267.6 490.00,262.0 490.50,268.0 491.00,261.7 491.50,268.7 492.00,262.2 492.50,261.6 493.00,261.0 493.50,263.8 494.00,263.8 494.50,262.9 495.00,262.7 495.50,263.8 496.00,265.7 496.50,258.5 497.00,263.6 497.50,263.6 498.00,263.1 498.50,262.4 499.00,264.0 499.50,256.4 500.00,255.2 500.50,258.0 501.00,258.6 501.50,257.7 502.00,256.7 502.50,255.8 503.00,255.8 503.50,255.3 504.00,256.4 504.50,257.6 505.00,260.2 505.50,260.6 506.00,258.9 506.50,262.8 507.00,263.5 507.50,256.9 508.00,262.6 508.50,264.9 509.00,262.6 509.50,264.3 510.00,262.5 510.50,265.4 511.00,267.7 511.50,262.3 512.00,261.2 512.50,257.9 513.00,257.9 513.50,262.3 514.00,262.1 514.50,261.9 515.00,258.7 515.50,259.7 516.00,257.9 516.50,259.1 517.00,258.8 517.50,258.6 518.00,256.7 518.50,254.6 519.00,254.6 519.50,260.1 520.00,255.8 520.50,253.1 521.00,253.6 521.50,253.4 522.00,252.3 522.50,252.0 523.00,251.4 523.50,253.1 524.00,255.1 524.50,256.0 525.00,258.7 525.50,263.8 526.00,258.9 526.50,261.6 527.00,262.6 527.50,261.2 528.00,262.5 528.50,262.4 529.00,265.3 529.50,264.0 530.00,263.4 530.50,264.4 531.00,264.1 531.50,263.5 532.00,264.6 532.50,265.6 533.00,264.4 533.50,262.6 534.00,263.7 534.50,263.0 535.00,263.3 535.50,266.2 536.00,263.8 536.50,263.9 537.00,263.3 537.50,264.4 538.00,263.3 538.50,264.6 539.00,264.4 539.50,263.6 540.00,263.2 540.50,263.6 541.00,263.4 541.50,262.8 542.00,268.0 542.50,266.5 543.00,265.9 543.50,267.0 544.00,267.0 544.50,265.0 545.00,265.8 545.50,260.3 546.00,270.2 546.50,268.1 547.00,270.2 547.50,266.6 548.00,261.0 548.50,265.6 549.00,266.2 549.50,263.2 550.00,269.4 550.50,264.0 551.00,266.0 551.50,263.7 552.00,260.4 552.50,265.6 553.00,265.6 553.50,265.8 554.00,268.2 554.50,264.1 555.00,267.2 555.50,261.1 556.00,263.5 556.50,263.7 557.00,261.4 557.50,262.1 558.00,264.4 558.50,262.3 559.00,264.7 559.50,266.0 560.00,266.7 560.50,266.3 561.00,266.9 561.50,265.2 562.00,268.3 562.50,266.5 563.00,265.2 563.50,266.3 564.00,266.9 564.50,269.3 565.00,267.0 565.50,268.6 566.00,267.6 566.50,269.3 567.00,267.7 567.50,269.7 568.00,266.4 568.50,267.1 569.00,266.0 569.50,269.8 570.00,263.1 570.50,264.4 571.00,262.4 571.50,261.9 572.00,260.3 572.50,259.2 573.00,259.3 573.50,260.0 574.00,261.3 574.50,261.3 575.00,262.1 575.50,264.9 576.00,264.3 576.50,265.8 577.00,262.3 577.50,265.2 578.00,264.9 578.50,265.8 579.00,266.6 579.50,266.2 580.00,264.5 580.50,267.6 581.00,267.6 581.50,270.9 582.00,271.0 582.50,265.9 583.00,267.0 583.50,264.8 584.00,271.0 584.50,266.9 585.00,268.3 585.50,266.7 586.00,266.4 586.50,266.8 587.00,265.8 587.50,267.3 588.00,267.7 588.50,268.9 589.00,271.0 589.50,270.2 590.00,266.6 590.50,266.9 591.00,265.5 591.50,266.9 592.00,267.8 592.50,263.6 593.00,267.3 593.50,266.8 594.00,267.0 594.50,266.8 595.00,267.3 595.50,266.9 596.00,269.6 596.50,269.1 597.00,266.7 597.50,268.9 598.00,268.3 598.50,268.6 599.00,269.7 599.50,268.6 600.00,269.2 600.50,267.8 601.00,268.3 601.50,268.6 602.00,268.6 602.50,267.4 603.00,267.9 603.50,272.2 604.00,269.0 604.50,268.1 605.00,272.4 605.50,268.3 606.00,267.4 606.50,266.9 607.00,268.2 607.50,267.0 608.00,267.6 608.50,267.1 609.00,267.8 609.50,268.0 610.00,264.9 610.50,267.7 611.00,266.2 611.50,268.3 612.00,269.2 612.50,268.1 613.00,268.0 613.50,268.6 614.00,267.3 614.50,268.4 615.00,268.6 615.50,264.3 616.00,269.1 616.50,269.7 617.00,268.0 617.50,267.9 618.00,263.9 618.50,268.8 619.00,267.1 619.50,267.0 620.00,267.7 620.50,264.4 621.00,267.0 621.50,266.8 622.00,267.8 622.50,268.8 623.00,267.4 623.50,266.5 624.00,269.0 624.50,268.1 625.00,270.0 625.50,268.4 626.00,268.0 626.50,264.9 627.00,269.1 627.50,269.5 628.00,270.2 628.50,269.6 629.00,266.3 629.50,270.4 630.00,269.6 630.50,270.7 631.00,270.7 631.50,270.2 632.00,270.4 632.50,269.2 633.00,270.8 633.50,269.9 634.00,269.8 634.50,270.2 635.00,266.9 635.50,270.0 636.00,268.8 636.50,269.3 637.00,269.0 637.50,270.8 638.00,270.5 638.50,270.2 639.00,269.9 639.50,269.3 640.00,269.9 640.50,269.6 641.00,268.8 641.50,269.4 642.00,269.4 642.50,270.5 643.00,272.9 643.50,269.9 644.00,265.2 644.50,268.9 645.00,269.1 645.50,273.2 646.00,268.8 646.50,269.7 647.00,269.8 647.50,271.5 648.00,269.4 648.50,270.8 649.00,269.6 649.50,269.7 650.00,269.5 650.50,270.6 651.00,269.1 651.50,271.6 652.00,269.3 652.50,271.0 653.00,269.9 653.50,268.2 654.00,269.1 654.50,270.7 655.00,267.9 655.50,269.7 656.00,271.3 656.50,270.6 657.00,270.2 657.50,270.4 658.00,271.5 658.50,267.1 659.00,272.9 659.50,270.1 660.00,270.6 660.50,270.8 661.00,271.1 661.50,269.0 662.00,270.8 662.50,270.9 663.00,272.8 663.50,270.6 664.00,271.2 664.50,270.4 665.00,270.4 665.50,272.0 666.00,270.9 666.50,270.8 667.00,272.1 667.50,272.7 668.00,271.7 668.50,268.4 669.00,272.4 669.50,271.3 670.00,271.9 670.50,272.1 671.00,272.6 671.50,272.8 672.00,272.3 672.50,269.0 673.00,272.9 673.50,271.1 674.00,268.3 674.50,272.6 675.00,272.3 675.50,271.8 676.00,271.9" fill="none" stroke="#000" stroke-width="1.1" stroke-linejoin="round"/>
<g stroke="#222" stroke-width="1.5" fill="none">
<rect x="45.4" y="3.1" width="630.9" height="283.9"/>
<line x1="63.00" y1="287" x2="63.00" y2="279" /><line x1="106.82" y1="287" x2="106.82" y2="283" /><line x1="150.64" y1="287" x2="150.64" y2="279" /><line x1="194.46" y1="287" x2="194.46" y2="283" /><line x1="238.28" y1="287" x2="238.28" y2="279" /><line x1="282.10" y1="287" x2="282.10" y2="283" /><line x1="325.92" y1="287" x2="325.92" y2="279" /><line x1="369.74" y1="287" x2="369.74" y2="283" /><line x1="413.56" y1="287" x2="413.56" y2="279" /><line x1="457.38" y1="287" x2="457.38" y2="283" /><line x1="501.20" y1="287" x2="501.20" y2="279" /><line x1="545.02" y1="287" x2="545.02" y2="283" /><line x1="588.84" y1="287" x2="588.84" y2="279" /><line x1="632.66" y1="287" x2="632.66" y2="283" /><line x1="676.48" y1="287" x2="676.48" y2="279" />
</g>
<path d="M47.5,189.0 L61.3,189.0 L54.4,202.5 Z" fill="#008a00"/><ellipse cx="84.2" cy="132.2" rx="5.85" ry="6.6" fill="#fa0000"/><path d="M128.2,205.7 L142.0,205.7 L135.1,219.2 Z" fill="#008a00"/><ellipse cx="151.4" cy="155.6" rx="5.85" ry="6.6" fill="#fa0000"/><rect x="152.8" y="124.2" width="10.2" height="11.5" fill="#0a32ff"/><ellipse cx="194.0" cy="132.3" rx="5.85" ry="6.6" fill="#fa0000"/><rect x="203.7" y="9.8" width="10.2" height="11.5" fill="#0a32ff"/><path d="M218.9,192.2 L232.7,192.2 L225.8,205.7 Z" fill="#008a00"/><ellipse cx="283.0" cy="209.8" rx="5.85" ry="6.6" fill="#fa0000"/><rect x="290.4" y="211.1" width="10.2" height="11.5" fill="#0a32ff"/><rect x="315.7" y="211.7" width="10.2" height="11.5" fill="#0a32ff"/><rect x="322.8" y="221.6" width="10.2" height="11.5" fill="#0a32ff"/><rect x="341.7" y="228.7" width="10.2" height="11.5" fill="#0a32ff"/><rect x="371.2" y="231.2" width="10.2" height="11.5" fill="#0a32ff"/><rect x="409.2" y="224.3" width="10.2" height="11.5" fill="#0a32ff"/><ellipse cx="458.3" cy="241.9" rx="5.85" ry="6.6" fill="#fa0000"/><ellipse cx="521.5" cy="241.0" rx="5.85" ry="6.6" fill="#fa0000"/>
<g font-family="'Liberation Sans', sans-serif" font-size="15" fill="#1a1a1a" transform="translate(0,302.75) scale(1,1.1) translate(0,-302.75)">
<text x="62.60" y="308.3" text-anchor="middle">10</text><text x="150.24" y="308.3" text-anchor="middle">20</text><text x="237.88" y="308.3" text-anchor="middle">30</text><text x="325.52" y="308.3" text-anchor="middle">40</text><text x="413.16" y="308.3" text-anchor="middle">50</text><text x="500.80" y="308.3" text-anchor="middle">60</text><text x="588.44" y="308.3" text-anchor="middle">70</text><text x="676.08" y="308.3" text-anchor="middle">80</text>
</g>
<text transform="translate(23.9,135) rotate(-90) scale(1.085,1)" text-anchor="middle" font-family="'Liberation Sans', sans-serif" font-size="30" fill="#111">Intensity (a.u.)</text>
<g font-family="'Liberation Serif', serif" font-size="28" fill="#111">
<text transform="translate(333.0,334.5) scale(0.96,1.05)">2</text>
<text transform="translate(347.6,334.5) scale(1.05,1.05)">θ</text>
<text transform="translate(358.9,334.5) scale(1.035,1.05)">(</text>
<text transform="translate(369.0,335.5) scale(1.1,1.05)">°</text>
<text transform="translate(379.15,334.5) scale(1.035,1.05)">)</text>
</g>
<!-- legend -->
<rect x="434.4" y="3.1" width="242.2" height="168.2" fill="#fff" stroke="#5a5a5a" stroke-width="1.3"/>
<line x1="436" y1="13.8" x2="470.7" y2="13.8" stroke="#000" stroke-width="3" stroke-linecap="round"/>
<rect x="448.7" y="30.4" width="10.2" height="11.5" fill="#0a32ff"/>
<ellipse cx="453.6" cy="85.2" rx="5.85" ry="6.6" fill="#fa0000"/>
<path d="M446.8,129.2 L460.6,129.2 L453.7,142.7 Z" fill="#008a00"/>
<g font-family="&quot;Liberation Serif&quot;, serif" font-size="15" fill="#1a1a1a"><text transform="translate(474.2,19.5) scale(0.985,1.08)" x="0" y="0">Diatomite</text><text transform="translate(474.7,41.4) scale(0.968,1.08)" x="0" y="0">SiO<tspan font-size="10" dy="5.5">2</tspan><tspan dy="-5.5"> (quartz)</tspan></text><text transform="translate(475.4,69.3) scale(0.907,1.08)" x="0" y="0">(ICDD 01-075-8322)</text><text transform="translate(474.7,90.5) scale(0.931,1.08)" x="0" y="0">Al<tspan font-size="10" dy="5.5">2</tspan><tspan dy="-5.5">Si</tspan><tspan font-size="10" dy="5.5">2</tspan><tspan dy="-5.5">O</tspan><tspan font-size="10" dy="5.5">5</tspan><tspan dy="-5.5">(OH)</tspan><tspan font-size="10" dy="5.5">4</tspan></text><text transform="translate(475.4,117.2) scale(0.907,1.08)" x="0" y="0">(ICDD 00-029-1488)</text><text transform="translate(474.7,139.5) scale(0.933,1.08)" x="0" y="0">KAl<tspan font-size="10" dy="5.5">2</tspan><tspan dy="-5.5">(Al, Si)</tspan><tspan font-size="10" dy="5.5">4</tspan><tspan dy="-5.5">O</tspan><tspan font-size="10" dy="5.5">10</tspan><tspan dy="-5.5">(OH)</tspan><tspan font-size="10" dy="5.5">2</tspan><tspan dy="-5.5"> (Muscovite)</tspan></text><text transform="translate(475.4,166.2) scale(0.907,1.08)" x="0" y="0">(ICDD 00-058-2035)</text></g>
</svg>
</body></html>
